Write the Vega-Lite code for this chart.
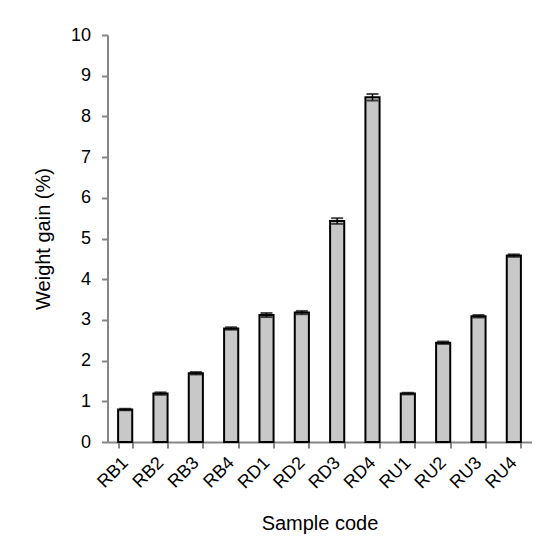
{
  "$schema": "https://vega.github.io/schema/vega-lite/v6.json",
  "width": 424,
  "height": 407,
  "autosize": {"type": "none"},
  "padding": {"left": 107.5, "top": 35, "right": 22.5, "bottom": 97},
  "background": "white",
  "config": {
    "view": {"stroke": null},
    "font": "Liberation Sans",
    "axis": {
      "domainColor": "#868686",
      "domainWidth": 2,
      "tickColor": "#868686",
      "tickWidth": 2,
      "tickSize": 6,
      "grid": false,
      "labelColor": "black",
      "titleColor": "black",
      "labelFont": "Liberation Sans",
      "titleFont": "Liberation Sans",
      "labelFontSize": 18,
      "titleFontSize": 20,
      "titleFontWeight": "normal"
    }
  },
  "data": {
    "values": [
      {"sample": "RB1", "gain": 0.80, "lo": 0.78, "hi": 0.82},
      {"sample": "RB2", "gain": 1.19, "lo": 1.16, "hi": 1.22},
      {"sample": "RB3", "gain": 1.69, "lo": 1.66, "hi": 1.72},
      {"sample": "RB4", "gain": 2.79, "lo": 2.76, "hi": 2.82},
      {"sample": "RD1", "gain": 3.12, "lo": 3.07, "hi": 3.17},
      {"sample": "RD2", "gain": 3.18, "lo": 3.14, "hi": 3.22},
      {"sample": "RD3", "gain": 5.43, "lo": 5.36, "hi": 5.50},
      {"sample": "RD4", "gain": 8.47, "lo": 8.39, "hi": 8.55},
      {"sample": "RU1", "gain": 1.19, "lo": 1.17, "hi": 1.21},
      {"sample": "RU2", "gain": 2.44, "lo": 2.41, "hi": 2.47},
      {"sample": "RU3", "gain": 3.09, "lo": 3.06, "hi": 3.12},
      {"sample": "RU4", "gain": 4.58, "lo": 4.55, "hi": 4.61}
    ]
  },
  "encoding": {
    "x": {
      "field": "sample",
      "type": "nominal",
      "sort": null,
      "scale": {"paddingInner": 0.6, "paddingOuter": 0.3},
      "axis": {
        "title": "Sample code",
        "labelAngle": -45,
        "labelAlign": "right",
        "labelBaseline": "middle",
        "labelPadding": 12,
        "tickBand": "extent",
        "titlePadding": 22
      }
    }
  },
  "layer": [
    {
      "mark": {"type": "bar", "fill": "#c8c8c8", "stroke": "black", "strokeWidth": 2},
      "encoding": {
        "y": {
          "field": "gain",
          "type": "quantitative",
          "title": "Weight gain (%)",
          "scale": {"domain": [0, 10], "nice": false},
          "axis": {
            "values": [0, 1, 2, 3, 4, 5, 6, 7, 8, 9, 10],
            "labelPadding": 11,
            "titlePadding": 17
          }
        }
      }
    },
    {
      "mark": {
        "type": "errorbar",
        "ticks": {"size": 12, "thickness": 2, "color": "black"},
        "rule": {"strokeWidth": 1.5, "color": "black"}
      },
      "encoding": {
        "y": {"field": "lo", "type": "quantitative", "title": "Weight gain (%)"},
        "y2": {"field": "hi"}
      }
    }
  ]
}
